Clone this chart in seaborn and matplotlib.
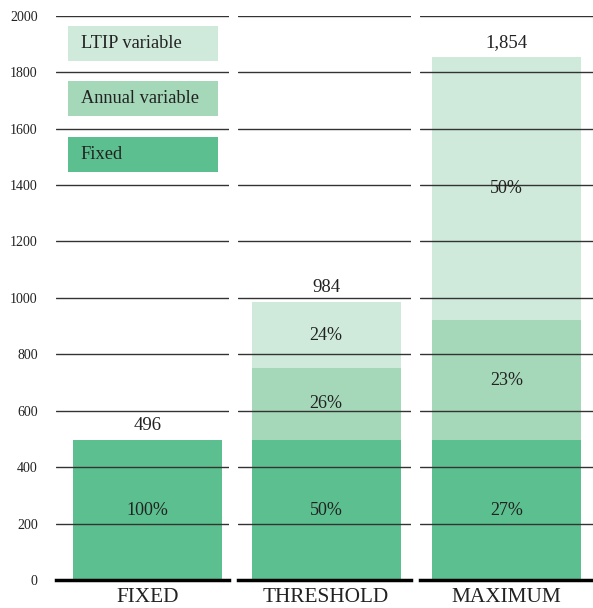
import matplotlib
matplotlib.use("Agg")
import matplotlib.pyplot as plt
import matplotlib.patches as mpatches
import seaborn as sns
import numpy as np

categories = ["FIXED", "THRESHOLD", "MAXIMUM"]
fixed = [496, 496, 496]
annual = [0, 256, 426]
ltip = [0, 232, 932]
series_names = ["Fixed", "Annual variable", "LTIP variable"]
colors = ["#5cbf8f", "#a5d7b9", "#cfe9da"]

sns.set_style("white")
plt.rcParams["font.family"] = ["Liberation Serif", "DejaVu Serif"]

fig = plt.figure(figsize=(5.93, 6.08), dpi=100)
gs = fig.add_gridspec(1, 3, left=0.094, right=1.0, bottom=0.046, top=0.974, wspace=0.052)
axes = [fig.add_subplot(gs[0, i]) for i in range(3)]
xlims = [(-0.53, 0.47), (-0.51, 0.49), (-0.5, 0.5)]

for i, ax in enumerate(axes):
    cat = categories[i]
    total = fixed[i] + annual[i] + ltip[i]
    # draw cumulative layers, biggest first
    layers = [fixed[i] + annual[i] + ltip[i], fixed[i] + annual[i], fixed[i]]
    layer_cols = [colors[2], colors[1], colors[0]]
    for h, c in zip(layers, layer_cols):
        sns.barplot(x=[cat], y=[h], color=c, width=0.86, saturation=1,
                    linewidth=0, edgecolor="none", ax=ax)
    # percent labels at middle of each segment
    bottoms = [0, fixed[i], fixed[i] + annual[i]]
    for v, b in zip([fixed[i], annual[i], ltip[i]], bottoms):
        if v > 0:
            ax.text(0, b + v / 2, f"{v / total * 100:.0f}%", ha="center", va="center",
                    fontsize=13, color="#222222", zorder=5)
    ax.text(0, total + 22, f"{total:,}", ha="center", va="bottom", fontsize=13.5,
            color="#222222", zorder=5)

    ax.set_ylim(0, 2000)
    ax.set_xlim(*xlims[i])
    ax.set_yticks(np.arange(0, 2001, 200))
    ax.yaxis.grid(True, color="#333333", linewidth=1.0)
    ax.set_axisbelow(False)
    for s in ["top", "left", "right"]:
        ax.spines[s].set_visible(False)
    ax.spines["bottom"].set_color("black")
    ax.spines["bottom"].set_linewidth(2.5)
    ax.spines["bottom"].set_zorder(6)
    ax.set_xlabel("")
    ax.set_ylabel("")
    ax.tick_params(axis="x", length=0, pad=6, labelsize=15.3, labelcolor="#222222")
    ax.tick_params(axis="y", length=0, pad=13, labelsize=10, labelcolor="#222222")
    if i > 0:
        ax.tick_params(axis="y", labelleft=False)

# legend as coloured boxes with text inside
ax0 = axes[0]
box_y = [0.920, 0.823, 0.723]
for name, col, y in zip(series_names[::-1], colors[::-1], box_y):
    ax0.add_patch(mpatches.Rectangle((0.07, y), 0.87, 0.062, transform=ax0.transAxes,
                                     facecolor=col, edgecolor="none", zorder=4))
    ax0.text(0.145, y + 0.031, name, transform=ax0.transAxes, ha="left", va="center",
             fontsize=13.2, color="#222222", zorder=5)

plt.savefig("out.png", dpi=100)
